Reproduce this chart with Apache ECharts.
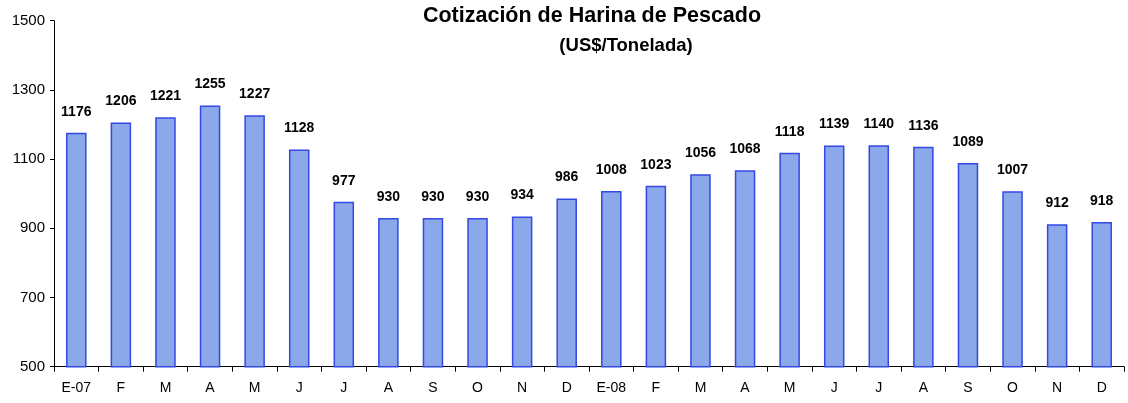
<!DOCTYPE html>
<html>
<head>
<meta charset="utf-8">
<script src="https://cdn.jsdelivr.net/npm/echarts@6/dist/echarts.min.js"></script>
<style>html,body{margin:0;padding:0;background:#fff;}#c{width:1128px;height:403px;}</style>
</head>
<body>
<div id="c"></div>
<script>
const categories = ['E-07','F','M','A','M','J','J','A','S','O','N','D','E-08','F','M','A','M','J','J','A','S','O','N','D'];
const values = [1176,1206,1221,1255,1227,1128,977,930,930,930,934,986,1008,1023,1056,1068,1118,1139,1140,1136,1089,1007,912,918];
const yTicks = [500,700,900,1100,1300,1500];

const chart = echarts.init(document.getElementById('c'));
chart.setOption({
  backgroundColor: '#fff',
  animation: false,
  title: [
    {text: 'Cotización de Harina de Pescado', left: 587, top: 0, textAlign: 'center',
     textStyle: {fontFamily: 'Liberation Sans, Arial', fontSize: 21.5, fontWeight: 'bold', color: '#000'}},
    {text: '(US$/Tonelada)', left: 621, top: 31, textAlign: 'center',
     textStyle: {fontFamily: 'Liberation Sans, Arial', fontSize: 18.5, fontWeight: 'bold', color: '#000'}}
  ],
  grid: {left: 54, right: 4, top: 20.7, bottom: 36.3, containLabel: false},
  xAxis: {
    type: 'category', data: categories, boundaryGap: true,
    axisLine: {lineStyle: {color: '#000', width: 1}},
    axisTick: {show: true, alignWithLabel: false, length: 5, lineStyle: {color: '#000'}},
    axisLabel: {fontFamily: 'Liberation Sans, Arial', fontSize: 14, color: '#000', margin: 14, interval: 0}
  },
  yAxis: {
    type: 'value', min: yTicks[0], max: yTicks[yTicks.length-1], interval: 200,
    axisLine: {show: true, lineStyle: {color: '#000', width: 1}},
    axisTick: {show: true, length: 4, lineStyle: {color: '#000'}},
    splitLine: {show: false},
    axisLabel: {fontFamily: 'Liberation Sans, Arial', fontSize: 15, color: '#000', margin: 9,
      formatter: v => String(v)}
  },
  series: [{
    type: 'bar', data: values, barWidth: '46%',
    itemStyle: {color: '#8aa8ea', borderColor: '#3448e4', borderWidth: 1.5},
    label: {show: true, position: 'top', distance: 14,
      fontFamily: 'Liberation Sans, Arial', fontSize: 14, fontWeight: 'bold', color: '#000'}
  }]
});
</script>
</body>
</html>
